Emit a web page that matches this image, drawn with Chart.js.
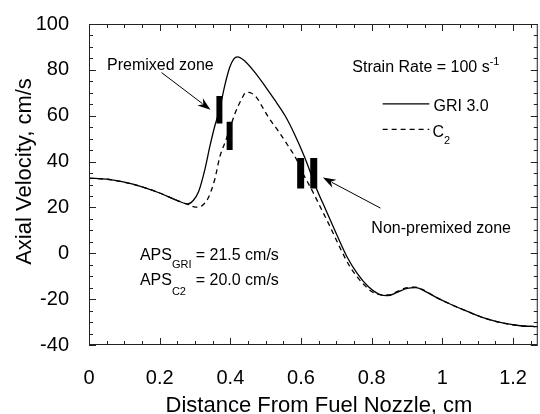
<!DOCTYPE html>
<html><head><meta charset="utf-8">
<script src="https://cdn.jsdelivr.net/npm/chart.js@4.4.0/dist/chart.umd.min.js"></script>
<style>html,body{margin:0;padding:0;background:#fff}#wrap{width:540px;height:414px}</style>
</head><body><div id="wrap"><canvas id="c" width="540" height="414"></canvas></div>
<script>
// ---- data ----
const griX = [0, 0.05, 0.10, 0.15, 0.20, 0.25, 0.28, 0.295, 0.31, 0.328, 0.342, 0.356, 0.37, 0.384, 0.398, 0.41, 0.42, 0.44, 0.47, 0.50, 0.525, 0.555, 0.58, 0.61, 0.643, 0.67, 0.70, 0.73, 0.76, 0.79, 0.82, 0.845, 0.87, 0.90, 0.925, 0.95, 0.98, 1.02, 1.076, 1.12, 1.17, 1.22, 1.27];
const griY = [32.8, 32.3, 31.0, 29.0, 26.3, 23.0, 21.5, 23.0, 26.8, 36.6, 46.6, 55.5, 63.0, 73.0, 81.0, 84.8, 85.7, 84.0, 78.8, 72.5, 67.0, 60.0, 52.5, 42.0, 28.5, 19.0, 8.5, -1.5, -9.0, -14.5, -17.8, -18.5, -17.2, -15.3, -15.0, -16.5, -19.0, -22.0, -25.7, -28.3, -30.4, -31.6, -32.0];
const c2X = [0, 0.05, 0.10, 0.15, 0.20, 0.25, 0.28, 0.295, 0.309, 0.323, 0.337, 0.356, 0.37, 0.384, 0.398, 0.412, 0.431, 0.445, 0.46, 0.475, 0.49, 0.507, 0.535, 0.563, 0.587, 0.60, 0.634, 0.66, 0.681, 0.71, 0.737, 0.76, 0.78, 0.803, 0.83, 0.85, 0.87, 0.90, 0.925, 0.95, 0.98, 1.02, 1.076, 1.12, 1.17, 1.22, 1.27];
const c2Y = [32.8, 32.3, 31.0, 29.0, 26.3, 23.0, 21.3, 20.4, 20.1, 21.2, 24.0, 32.3, 42.0, 48.0, 54.0, 60.5, 67.0, 70.2, 69.8, 67.8, 64.0, 59.5, 53.5, 47.0, 41.0, 36.5, 26.6, 18.5, 12.0, 2.5, -5.5, -10.5, -14.0, -17.0, -18.2, -18.2, -16.8, -15.0, -14.8, -16.3, -19.0, -22.0, -25.7, -28.3, -30.4, -31.6, -32.0];

// flame-zone markers: [x, low, high]
const zoneX    = [0.369, 0.398, 0.599, 0.636];
const zoneLow  = [56.6, 45.0, 28.3, 28.3];
const zoneHigh = [68.6, 57.4, 41.6, 41.6];

const xTickValues = [0, 0.2, 0.4, 0.6, 0.8, 1.0, 1.2];
const xTickLabels = ['0', '0.2', '0.4', '0.6', '0.8', '1', '1.2'];
const yTickValues = [-40, -20, 0, 20, 40, 60, 80, 100];
const yTickLabels = ['-40', '-20', '0', '20', '40', '60', '80', '100'];

const seriesNames = ['GRI 3.0', 'C'];
const xTitle = 'Distance From Fuel Nozzle, cm';
const yTitle = 'Axial Velocity, cm/s';

// ---- build ----
const FONT = '"Liberation Sans", Arial, Helvetica, sans-serif';
const pts = (xs, ys) => xs.map((x, i) => ({x, y: ys[i]}));

const datasets = [
  {label: seriesNames[0], data: pts(griX, griY), borderColor: '#000', borderWidth: 1.3,
   pointRadius: 0, cubicInterpolationMode: 'monotone', fill: false, showLine: true},
  {label: seriesNames[1], data: pts(c2X, c2Y), borderColor: '#000', borderWidth: 1.3,
   borderDash: [5, 4], pointRadius: 0, cubicInterpolationMode: 'monotone', fill: false, showLine: true}
];
zoneX.forEach((zx, i) => {
  datasets.push({label: 'zone' + i, data: [{x: zx, y: zoneLow[i]}, {x: zx, y: zoneHigh[i]}],
    borderColor: '#000', borderWidth: i < 2 ? 6 : 7, borderCapStyle: 'butt',
    pointRadius: 0, showLine: true, fill: false});
});

function drawRich(ctx, x, y, parts) {
  let cx = x;
  parts.forEach(p => {
    ctx.font = p.size + 'px ' + FONT;
    ctx.fillText(p.t, cx, y + (p.dy || 0));
    cx += ctx.measureText(p.t).width;
  });
  return cx;
}
function arrow(ctx, x1, y1, x2, y2) {
  const ang = Math.atan2(y2 - y1, x2 - x1);
  const L = 13, W = 4.5;
  const bx = x2 - L * Math.cos(ang), by = y2 - L * Math.sin(ang);
  ctx.beginPath(); ctx.moveTo(x1, y1); ctx.lineTo(bx + 3 * Math.cos(ang), by + 3 * Math.sin(ang)); ctx.stroke();
  ctx.beginPath();
  ctx.moveTo(x2, y2);
  ctx.lineTo(bx + W * Math.sin(ang), by - W * Math.cos(ang));
  ctx.lineTo(bx + 4 * Math.cos(ang), by + 4 * Math.sin(ang));
  ctx.lineTo(bx - W * Math.sin(ang), by + W * Math.cos(ang));
  ctx.closePath(); ctx.fill();
}

const decor = {
  id: 'decor',
  afterDraw(chart) {
    const {ctx, chartArea: a, scales: {x, y}} = chart;
    ctx.save();
    ctx.strokeStyle = '#222'; ctx.lineWidth = 1;
    ctx.strokeRect(a.left + 0.5, a.top + 0.5, a.right - a.left - 1, a.bottom - a.top - 1);
    // inward ticks
    ctx.beginPath();
    for (let i = 0; i <= 25; i++) {
      const px = Math.round(x.getPixelForValue(i * 0.05)) + 0.5;
      const len = i % 4 === 0 ? 7 : 4;
      ctx.moveTo(px, a.bottom); ctx.lineTo(px, a.bottom - len);
      ctx.moveTo(px, a.top); ctx.lineTo(px, a.top + len);
    }
    for (let i = 0; i <= 28; i++) {
      const py = Math.round(y.getPixelForValue(-40 + i * 5)) + 0.5;
      const len = i % 4 === 0 ? 7 : 4;
      ctx.moveTo(a.left, py); ctx.lineTo(a.left + len, py);
      ctx.moveTo(a.right, py); ctx.lineTo(a.right - len, py);
    }
    ctx.stroke();

    ctx.fillStyle = '#000'; ctx.strokeStyle = '#000';
    ctx.textBaseline = 'alphabetic'; ctx.textAlign = 'left';
    const X = v => x.getPixelForValue(v), Y = v => y.getPixelForValue(v);

    // axis titles
    ctx.font = '22px ' + FONT; ctx.textAlign = 'center';
    ctx.fillText(xTitle, 319, 412);
    ctx.save(); ctx.translate(31, 171.5); ctx.rotate(-Math.PI / 2);
    ctx.fillText(yTitle, 0, 0); ctx.restore();
    ctx.textAlign = 'left';

    // annotations
    drawRich(ctx, X(0.051), Y(80), [{t: 'Premixed zone', size: 16}]);
    drawRich(ctx, X(0.799), Y(8.8), [{t: 'Non-premixed zone', size: 16}]);
    drawRich(ctx, X(0.745), Y(78.9), [{t: 'Strain Rate = 100 s', size: 16}, {t: '-1', size: 11, dy: -7}]);
    // legend
    ctx.lineWidth = 1.3;
    ctx.beginPath(); ctx.moveTo(X(0.831), Y(65.2)); ctx.lineTo(X(0.963), Y(65.2)); ctx.stroke();
    ctx.setLineDash([5, 4]);
    ctx.beginPath(); ctx.moveTo(X(0.831), Y(54)); ctx.lineTo(X(0.963), Y(54)); ctx.stroke();
    ctx.setLineDash([]);
    drawRich(ctx, X(0.975), Y(62.1), [{t: seriesNames[0], size: 16}]);
    drawRich(ctx, X(0.972), Y(50.9), [{t: seriesNames[1], size: 16}, {t: '2', size: 11, dy: 7}]);
    // APS
    drawRich(ctx, X(0.144), Y(-2.8), [{t: 'APS', size: 16}, {t: 'GRI', size: 11, dy: 8}]);
    drawRich(ctx, X(0.302), Y(-2.8), [{t: '= 21.5 cm/s', size: 16}]);
    drawRich(ctx, X(0.144), Y(-13.8), [{t: 'APS', size: 16}, {t: 'C2', size: 11, dy: 10}]);
    drawRich(ctx, X(0.302), Y(-13.8), [{t: '= 20.0 cm/s', size: 16}]);
    // arrows
    ctx.lineWidth = 1;
    arrow(ctx, X(0.2054), Y(78.8), X(0.3438), Y(62.6));
    arrow(ctx, X(0.825), Y(19.7), X(0.662), Y(33.0));
    ctx.restore();
  }
};

new Chart(document.getElementById('c'), {
  type: 'scatter',
  data: {datasets},
  options: {
    responsive: false, animation: false, devicePixelRatio: 1,
    layout: {padding: {top: 19, right: 1, left: 0, bottom: 0}},
    plugins: {legend: {display: false}, tooltip: {enabled: false}},
    scales: {
      x: {
        type: 'linear', min: 0, max: 1.27,
        afterBuildTicks: s => { s.ticks = xTickValues.map(v => ({value: v})); },
        afterFit: s => { s.height = 69; },
        grid: {display: false}, border: {display: false},
        ticks: {autoSkip: false, maxRotation: 0, color: '#000', padding: 13,
                font: {size: 20, family: FONT}, callback: (v, i) => xTickLabels[i]}
      },
      y: {
        type: 'linear', min: -40, max: 100,
        afterBuildTicks: s => { s.ticks = yTickValues.map(v => ({value: v})); },
        afterFit: s => { s.width = 89; },
        grid: {display: false}, border: {display: false},
        ticks: {autoSkip: false, color: '#000', padding: 12,
                font: {size: 20, family: FONT}, callback: (v, i) => yTickLabels[i]}
      }
    }
  },
  plugins: [decor]
});
</script></body></html>
